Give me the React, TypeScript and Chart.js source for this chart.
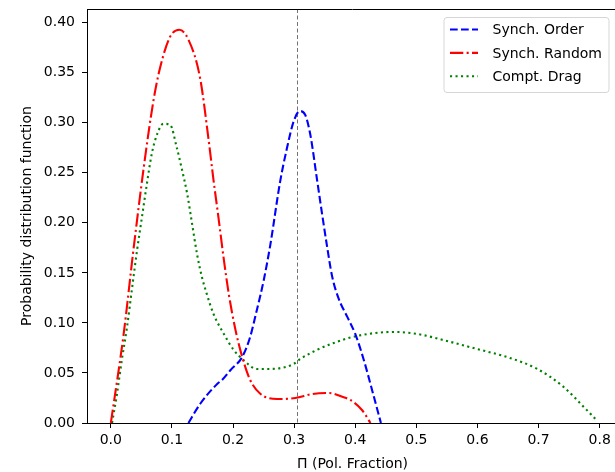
import React, { useEffect, useRef } from "react";
import { Chart, registerables } from "chart.js";

Chart.register(...registerables);

// ---- data ----
const ORDER_X = [0.127, 0.146, 0.174, 0.182, 0.196, 0.215, 0.228, 0.239, 0.25, 0.261, 0.277, 0.288, 0.299, 0.309, 0.318, 0.3265, 0.3375, 0.3457, 0.354, 0.362, 0.373, 0.387, 0.4, 0.414, 0.4275, 0.442];
const ORDER_Y = [0, 0.019, 0.039, 0.043, 0.053, 0.066, 0.086, 0.113, 0.142, 0.178, 0.241, 0.274, 0.301, 0.3117, 0.308, 0.288, 0.243, 0.209, 0.176, 0.147, 0.124, 0.106, 0.089, 0.063, 0.033, 0];

const RANDOM_X = [0, 0.021, 0.037, 0.054, 0.07, 0.081, 0.097, 0.112, 0.127, 0.146, 0.16, 0.168, 0.176, 0.185, 0.193, 0.204, 0.215, 0.228, 0.245, 0.272, 0.302, 0.33, 0.357, 0.38, 0.392, 0.411, 0.425];
const RANDOM_Y = [0, 0.089, 0.173, 0.256, 0.323, 0.356, 0.386, 0.393, 0.383, 0.345, 0.283, 0.243, 0.206, 0.163, 0.129, 0.093, 0.066, 0.043, 0.029, 0.024, 0.025, 0.029, 0.03, 0.026, 0.023, 0.013, 0];

const DRAG_X = [0.002, 0.01, 0.018, 0.0265, 0.035, 0.043, 0.051, 0.059, 0.067, 0.076, 0.086, 0.097, 0.108, 0.1165, 0.125, 0.133, 0.141, 0.149, 0.157, 0.168, 0.185, 0.201, 0.217, 0.239, 0.261, 0.299, 0.31, 0.337, 0.365, 0.403, 0.463, 0.501, 0.556, 0.599, 0.648, 0.698, 0.741, 0.774, 0.793];
const DRAG_Y = [0, 0.029, 0.063, 0.096, 0.136, 0.173, 0.206, 0.239, 0.269, 0.289, 0.299, 0.298, 0.275, 0.253, 0.229, 0.199, 0.169, 0.146, 0.129, 0.109, 0.089, 0.073, 0.063, 0.054, 0.054, 0.059, 0.064, 0.073, 0.08, 0.087, 0.091, 0.089, 0.081, 0.074, 0.066, 0.054, 0.036, 0.016, 0.004];

const SERIES_LABELS = ["Synch. Order", "Synch. Random", "Compt. Drag"];
const X_TICKS = [0, 0.1, 0.2, 0.3, 0.4, 0.5, 0.6, 0.7, 0.8];
const Y_TICKS = [0, 0.05, 0.1, 0.15, 0.2, 0.25, 0.3, 0.35, 0.4];
const X_MIN = -0.039;
const X_MAX = 0.83;
const Y_MIN = 0;
const Y_MAX = 0.4137;
const VLINE_X = 0.304;

const FAMILY = "'DejaVu Sans', sans-serif";

const STYLES = [
  { color: "#0000ff", dash: [7.7, 3.3] },
  { color: "#ff0000", dash: [13.3, 3.3, 2.1, 3.3] },
  { color: "#008000", dash: [2.1, 3.4] },
];

const framePlugin = {
  id: "frame",
  afterDraw(chart: any) {
    const { ctx, chartArea: a } = chart;
    ctx.save();
    ctx.strokeStyle = "#000";
    ctx.lineWidth = 1;
    ctx.beginPath();
    ctx.moveTo(a.left, a.top + 0.5);
    ctx.lineTo(a.right, a.top + 0.5);
    ctx.moveTo(a.right, a.top);
    ctx.lineTo(a.right, a.bottom);
    ctx.stroke();
    ctx.restore();
  },
};

const vlinePlugin = {
  id: "vline",
  beforeDatasetsDraw(chart: any) {
    const { ctx, chartArea: a, scales } = chart;
    const px = Math.round(scales.x.getPixelForValue(VLINE_X)) + 0.5;
    ctx.save();
    ctx.strokeStyle = "rgba(0,0,0,0.55)";
    ctx.lineWidth = 1;
    ctx.setLineDash([4, 2.5]);
    ctx.beginPath();
    ctx.moveTo(px, a.top);
    ctx.lineTo(px, a.bottom);
    ctx.stroke();
    ctx.restore();
  },
};

const legendPlugin = {
  id: "mplLegend",
  afterDraw(chart: any) {
    const { ctx, chartArea: a } = chart;
    const right = a.right - 9;
    const top = a.top + 8.5;
    const w = 165;
    const h = 75;
    const left = right - w;
    const r = 3;
    ctx.save();
    ctx.beginPath();
    ctx.moveTo(left + r, top);
    ctx.lineTo(right - r, top);
    ctx.quadraticCurveTo(right, top, right, top + r);
    ctx.lineTo(right, top + h - r);
    ctx.quadraticCurveTo(right, top + h, right - r, top + h);
    ctx.lineTo(left + r, top + h);
    ctx.quadraticCurveTo(left, top + h, left, top + h - r);
    ctx.lineTo(left, top + r);
    ctx.quadraticCurveTo(left, top, left + r, top);
    ctx.closePath();
    ctx.fillStyle = "rgba(255,255,255,0.8)";
    ctx.fill();
    ctx.strokeStyle = "rgba(204,204,204,0.8)";
    ctx.lineWidth = 1;
    ctx.stroke();

    ctx.font = `14px ${FAMILY}`;
    ctx.textBaseline = "middle";
    ctx.textAlign = "left";
    SERIES_LABELS.forEach((label, i) => {
      const y = top + 12 + i * 23.4;
      ctx.strokeStyle = STYLES[i].color;
      ctx.lineWidth = 2.1;
      ctx.setLineDash(STYLES[i].dash);
      ctx.beginPath();
      ctx.moveTo(left + 6, y);
      ctx.lineTo(left + 34, y);
      ctx.stroke();
      ctx.setLineDash([]);
      ctx.fillStyle = "#000";
      ctx.fillText(label, left + 48.5, y + 1);
    });
    ctx.restore();
  },
};

export default function App() {
  const ref = useRef<HTMLCanvasElement>(null);

  useEffect(() => {
    const canvas = ref.current;
    if (!canvas) return;
    const mk = (xs: number[], ys: number[]) => xs.map((x, i) => ({ x, y: ys[i] }));
    const sets = [
      mk(ORDER_X, ORDER_Y),
      mk(RANDOM_X, RANDOM_Y),
      mk(DRAG_X, DRAG_Y),
    ];
    const tickFont = { family: FAMILY, size: 14 };
    const chart = new Chart(canvas, {
      type: "line",
      data: {
        datasets: sets.map((d, i) => ({
          label: SERIES_LABELS[i],
          data: d,
          borderColor: STYLES[i].color,
          backgroundColor: STYLES[i].color,
          borderWidth: 2.1,
          borderDash: STYLES[i].dash,
          pointRadius: 0,
          fill: false,
          cubicInterpolationMode: "monotone",
        })),
      },
      options: {
        animation: false,
        responsive: false,
        devicePixelRatio: 1,
        layout: { padding: { left: 0, top: 9, right: 22, bottom: 0 } },
        plugins: {
          legend: { display: false },
          tooltip: { enabled: false },
        },
        scales: {
          x: {
            type: "linear",
            min: X_MIN,
            max: X_MAX,
            afterBuildTicks: (s: any) => {
              s.ticks = X_TICKS.map((v) => ({ value: v }));
            },
            afterFit: (s: any) => {
              s.height = 49;
              s.paddingLeft = 0;
              s.paddingRight = 0;
            },
            ticks: {
              callback: (v: any) => Number(v).toFixed(1),
              font: tickFont,
              color: "#000",
              padding: 4,
              maxRotation: 0,
              autoSkip: false,
            },
            grid: { drawOnChartArea: false, tickLength: 5, tickColor: "#000", tickWidth: 1 },
            border: { color: "#000", width: 1 },
            title: {
              display: true,
              text: "Π (Pol. Fraction)",
              font: tickFont,
              color: "#000",
              padding: { top: 0, bottom: -1 },
            },
          },
          y: {
            type: "linear",
            min: Y_MIN,
            max: Y_MAX,
            afterBuildTicks: (s: any) => {
              s.ticks = Y_TICKS.map((v) => ({ value: v }));
            },
            afterFit: (s: any) => {
              s.width = 87;
              s.paddingTop = 0;
              s.paddingBottom = 0;
            },
            ticks: {
              callback: (v: any) => Number(v).toFixed(2),
              font: tickFont,
              color: "#000",
              padding: 7,
              autoSkip: false,
            },
            grid: { drawOnChartArea: false, tickLength: 5, tickColor: "#000", tickWidth: 1 },
            border: { color: "#000", width: 1 },
            title: {
              display: true,
              text: "Probability distribution function",
              font: tickFont,
              color: "#000",
              padding: { top: 19, bottom: 0 },
            },
          },
        },
      },
      plugins: [framePlugin, vlinePlugin, legendPlugin],
    } as any);
    return () => chart.destroy();
  }, []);

  return (
    <div
      style={{
        position: "fixed",
        left: 0,
        top: 0,
        width: 615,
        height: 472,
        overflow: "hidden",
        background: "#fff",
      }}
    >
      <canvas ref={ref} width={640} height={472} style={{ display: "block", width: 640, height: 472 }} />
    </div>
  );
}
